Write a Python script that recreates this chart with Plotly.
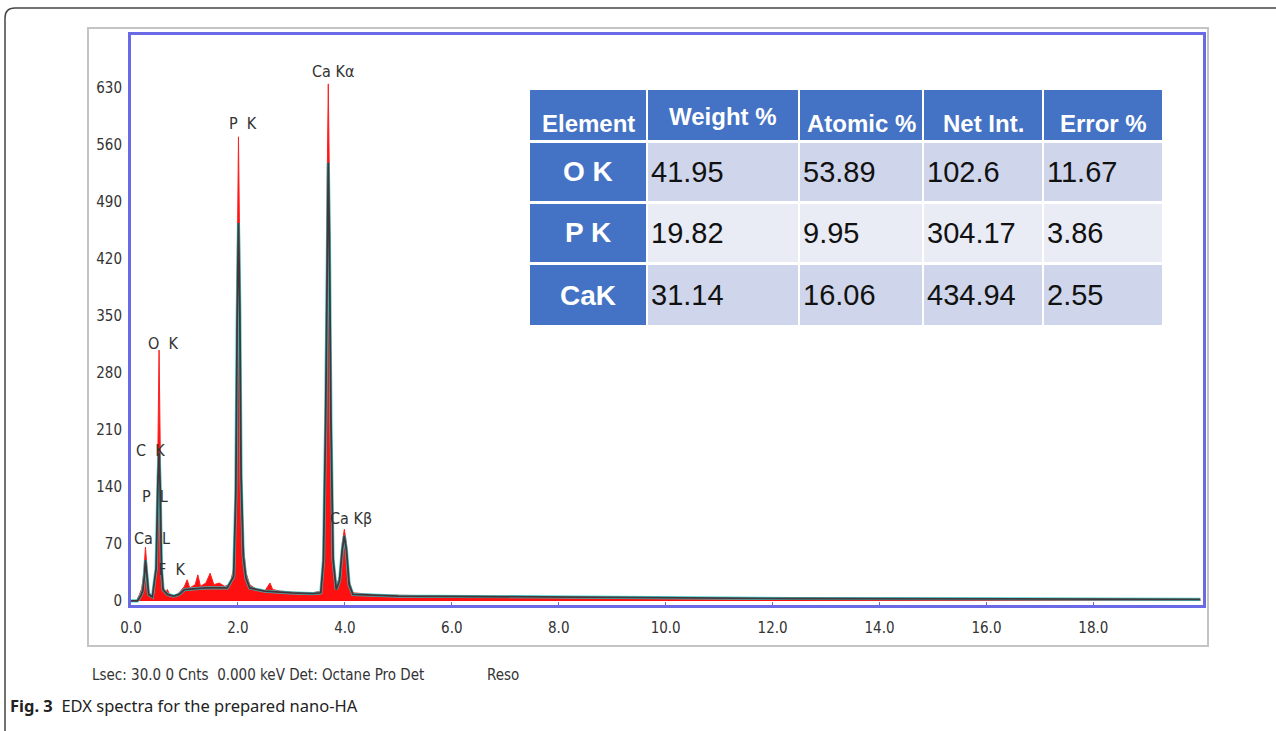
import plotly.graph_objects as go

# ---------------- data ----------------
# red spectrum (energy keV, counts)
red_keV = [0.0, 0.10, 0.16, 0.20, 0.24, 0.27, 0.30, 0.33, 0.38, 0.44, 0.48, 0.505, 0.525, 0.545, 0.57,
           0.60, 0.64, 0.68, 0.72, 0.80, 0.90, 1.00, 1.05, 1.10, 1.20, 1.25, 1.30, 1.40, 1.48, 1.55,
           1.65, 1.75, 1.85, 1.92, 1.96, 1.985, 2.01, 2.035, 2.06, 2.10, 2.15, 2.22, 2.35, 2.50, 2.60,
           2.65, 2.80, 3.00, 3.20, 3.40, 3.55, 3.60, 3.64, 3.67, 3.69, 3.71, 3.74, 3.78, 3.84, 3.90,
           3.95, 3.99, 4.03, 4.08, 4.15, 4.5, 5.0, 6.0, 7.0, 8.0, 9.5, 12.4, 20.0]
red_cnts = [0, 0, 8, 15, 35, 66, 40, 12, 6, 10, 60, 200, 308, 200, 60,
            18, 10, 14, 8, 6, 10, 18, 26, 16, 20, 32, 18, 22, 34, 20,
            22, 18, 20, 40, 150, 400, 570, 420, 180, 70, 35, 20, 14, 12, 22,
            14, 12, 11, 10, 10, 12, 60, 250, 520, 635, 520, 250, 60, 18, 30,
            70, 88, 70, 25, 10, 8, 7, 6, 5, 4, 3, 2, 1]

# teal spectrum (energy keV, counts)
teal_keV = [0.0, 0.12, 0.18, 0.22, 0.25, 0.27, 0.30, 0.33, 0.40, 0.47, 0.505, 0.525, 0.545, 0.57, 0.60,
            0.68, 0.80, 0.90, 1.0, 1.2, 1.4, 1.6, 1.8, 1.92, 1.96, 1.985, 2.01, 2.035, 2.06, 2.10,
            2.15, 2.22, 2.5, 3.0, 3.4, 3.55, 3.60, 3.64, 3.67, 3.69, 3.71, 3.74, 3.78, 3.84, 3.90,
            3.95, 3.99, 4.03, 4.08, 4.15, 5.0, 7.0, 9.5, 12.4, 20.0]
teal_cnts = [0, 0, 6, 12, 30, 50, 30, 8, 5, 40, 150, 182, 140, 40, 14,
             8, 6, 8, 14, 15, 16, 16, 16, 30, 130, 340, 464, 360, 150, 55,
             28, 16, 12, 10, 9, 10, 50, 220, 460, 538, 450, 220, 50, 14, 25,
             62, 80, 62, 20, 8, 6, 5, 4, 3, 2]

# peak labels
peak_labels = ["Ca K\u03b1", "P  K", "O  K", "C  K", "P  L", "Ca  L", "F  K", "Ca K\u03b2"]
peak_keV = [3.78, 2.10, 0.60, 0.37, 0.45, 0.40, 0.75, 4.12]
peak_cnts = [650, 586, 316, 185, 128, 77, 39, 101]

x_ticks = [0, 2, 4, 6, 8, 10, 12, 14, 16, 18]
x_ticktext = ["0.0", "2.0", "4.0", "6.0", "8.0", "10.0", "12.0", "14.0", "16.0", "18.0"]
y_ticks = [0, 70, 140, 210, 280, 350, 420, 490, 560, 630]

# table
tbl_header = ["Element", "Weight %", "Atomic %", "Net Int.", "Error %"]
tbl_element = ["O K", "P K", "CaK"]
tbl_weight = ["41.95", "19.82", "31.14"]
tbl_atomic = ["53.89", "9.95", "16.06"]
tbl_netint = ["102.6", "304.17", "434.94"]
tbl_error = ["11.67", "3.86", "2.55"]

info_text = "Lsec: 30.0 0 Cnts  0.000 keV Det: Octane Pro Det"
reso_text = "Reso"
caption_bold = "Fig. 3"
caption_text = "EDX spectra for the prepared nano-HA"

# ---------------- figure ----------------
W, H = 1276, 731
L, R, T, B = 131, 73, 35, 126
pw, ph = W - L - R, H - T - B


def px(x):
    return (x - L) / pw


def py(y):
    return (H - B - y) / ph


NARROW = "Liberation Sans Narrow, DejaVu Sans Condensed, sans-serif"
TXT = "#333333"

fig = go.Figure()

fig.add_trace(go.Scatter(x=red_keV, y=red_cnts, mode="lines", fill="tozeroy",
                         line=dict(color="#ff2020", width=1), fillcolor="#ff1010",
                         hoverinfo="skip", showlegend=False))
fig.add_trace(go.Scatter(x=teal_keV, y=teal_cnts, mode="lines",
                         line=dict(color="rgba(40,200,200,0.85)", width=3.2),
                         hoverinfo="skip", showlegend=False))
fig.add_trace(go.Scatter(x=teal_keV, y=teal_cnts, mode="lines",
                         line=dict(color="rgba(70,30,35,0.85)", width=1.8),
                         hoverinfo="skip", showlegend=False))

for t, xv, yv in zip(peak_labels, peak_keV, peak_cnts):
    fig.add_annotation(x=xv, y=yv, text=t, showarrow=False, xanchor="center", yanchor="middle",
                       font=dict(family=NARROW, size=16, color=TXT))

# ---- table drawn as cells ----
col_left = [530, 648, 800, 924, 1044]
col_right = [646, 798, 922, 1042, 1162]
row_top = [90, 143, 204, 265]
row_bot = [140, 201, 262, 325]
blue = "#4472c4"
row_fill = ["#cfd5ea", "#e9ebf5", "#cfd5ea"]
header_yc = [123, 116, 123, 123, 123]
body_cols = [tbl_weight, tbl_atomic, tbl_netint, tbl_error]

for c in range(5):
    fig.add_shape(type="rect", xref="paper", yref="paper", x0=px(col_left[c]), x1=px(col_right[c]),
                  y0=py(row_bot[0]), y1=py(row_top[0]), fillcolor=blue, line=dict(width=0))
    fig.add_annotation(xref="paper", yref="paper", x=px((col_left[c] + col_right[c]) / 2), y=py(header_yc[c]),
                       text=f"<b>{tbl_header[c]}</b>", showarrow=False, xanchor="center", yanchor="middle",
                       font=dict(family="Liberation Sans, Arial", size=24, color="white"))
for r_ in range(3):
    yc = (row_top[r_ + 1] + row_bot[r_ + 1]) / 2
    fig.add_shape(type="rect", xref="paper", yref="paper", x0=px(col_left[0]), x1=px(col_right[0]),
                  y0=py(row_bot[r_ + 1]), y1=py(row_top[r_ + 1]), fillcolor=blue, line=dict(width=0))
    fig.add_annotation(xref="paper", yref="paper", x=px((col_left[0] + col_right[0]) / 2), y=py(yc),
                       text=f"<b>{tbl_element[r_]}</b>", showarrow=False, xanchor="center", yanchor="middle",
                       font=dict(family="Liberation Sans, Arial", size=28, color="white"))
    for c in range(1, 5):
        fig.add_shape(type="rect", xref="paper", yref="paper", x0=px(col_left[c]), x1=px(col_right[c]),
                      y0=py(row_bot[r_ + 1]), y1=py(row_top[r_ + 1]), fillcolor=row_fill[r_], line=dict(width=0))
        fig.add_annotation(xref="paper", yref="paper", x=px(col_left[c] + 1), y=py(yc),
                           text=body_cols[c - 1][r_], showarrow=False, xanchor="left", yanchor="middle",
                           font=dict(family="Liberation Sans, Arial", size=29, color="#111111"))

# frames
fig.add_shape(type="rect", xref="paper", yref="paper", x0=px(88), x1=px(1208), y0=py(646), y1=py(28),
              line=dict(color="#c4c4c4", width=2), layer="below")
rr = 10
fig.add_shape(type="path", xref="paper", yref="paper",
              path=(f"M {px(5)},{py(731)} L {px(5)},{py(8 + rr)} "
                    f"Q {px(5)},{py(8)} {px(5 + rr)},{py(8)} L {px(1276)},{py(8)}"),
              line=dict(color="#444444", width=1.5))

fig.add_annotation(xref="paper", yref="paper", x=px(90), y=py(675), text=info_text, showarrow=False,
                   xanchor="left", yanchor="middle", font=dict(family=NARROW, size=15, color=TXT))
fig.add_annotation(xref="paper", yref="paper", x=px(485), y=py(675), text=reso_text, showarrow=False,
                   xanchor="left", yanchor="middle", font=dict(family=NARROW, size=15, color=TXT))
fig.add_annotation(xref="paper", yref="paper", x=px(8), y=py(705),
                   text=f"<b>{caption_bold}</b>  {caption_text}", showarrow=False,
                   xanchor="left", yanchor="middle",
                   font=dict(family="Noto Sans, sans-serif", size=16.5, color="#222222"))

fig.update_layout(
    width=W, height=H, margin=dict(l=L, r=R, t=T, b=B, autoexpand=False),
    paper_bgcolor="white", plot_bgcolor="white",
    xaxis=dict(range=[0, 20.05], tickvals=x_ticks, ticktext=x_ticktext, showgrid=False, zeroline=False,
               showline=True, mirror=True, linecolor="#6a6ae6", linewidth=3,
               ticks="inside", ticklen=3, tickcolor="#6a6ae6", ticklabelstandoff=7,
               tickfont=dict(family=NARROW, size=15, color=TXT)),
    yaxis=dict(range=[-5, 695], tickvals=y_ticks, showgrid=False, zeroline=False,
               showline=True, mirror=True, linecolor="#6a6ae6", linewidth=3,
               ticks="", ticklabelstandoff=3,
               tickfont=dict(family=NARROW, size=15, color=TXT)),
)

fig.write_html("out.html", config={"displayModeBar": False},
               post_script="document.body.style.margin='0px';document.body.style.overflow='hidden';")
